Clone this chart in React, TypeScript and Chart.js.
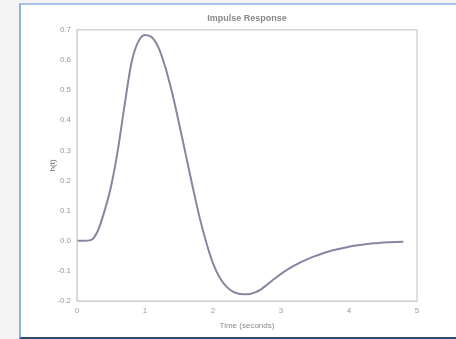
import React, { useEffect, useRef } from "react";
import { Chart, registerables } from "chart.js";

Chart.register(...registerables);

const chartTitle = "Impulse Response";
const xAxisTitle = "Time (seconds)";
const yAxisTitle = "h(t)";

const timeValues = [
  0, 0.1, 0.2, 0.3, 0.4, 0.5, 0.6, 0.7, 0.8, 0.9,
  1.0, 1.1, 1.2, 1.3, 1.4, 1.5, 1.6, 1.7, 1.8, 1.9,
  2.0, 2.1, 2.2, 2.3, 2.4, 2.5, 2.6, 2.7, 2.8, 2.9,
  3.0, 3.1, 3.2, 3.3, 3.4, 3.5, 3.6, 3.7, 3.8, 3.9,
  4.0, 4.1, 4.2, 4.3, 4.4, 4.5, 4.6, 4.7, 4.8,
];

const responseValues = [
  0, 0, 0.002, 0.03, 0.095, 0.18, 0.3, 0.45, 0.59, 0.66,
  0.683, 0.675, 0.64, 0.575, 0.49, 0.39, 0.285, 0.18, 0.08, -0.005,
  -0.075, -0.123, -0.153, -0.17, -0.177, -0.178, -0.173, -0.162, -0.145, -0.127,
  -0.11, -0.095, -0.082, -0.07, -0.06, -0.051, -0.043, -0.036, -0.03, -0.025,
  -0.02, -0.016, -0.013, -0.01, -0.008, -0.006, -0.005, -0.004, -0.003,
];

const xMin = 0;
const xMax = 5;
const yMin = -0.2;
const yMax = 0.7;

const boxPlugin = {
  id: "plotBox",
  afterDraw(chart: any) {
    const { ctx, chartArea } = chart;
    ctx.save();
    ctx.strokeStyle = "#d4d4d4";
    ctx.lineWidth = 1.5;
    ctx.strokeRect(chartArea.left, chartArea.top, chartArea.right - chartArea.left, chartArea.bottom - chartArea.top);
    ctx.restore();
  },
};

export default function App() {
  const ref = useRef<HTMLCanvasElement | null>(null);

  useEffect(() => {
    if (!ref.current) return;
    const points = timeValues.map((t, i) => ({ x: t, y: responseValues[i] }));
    const chart = new Chart(ref.current, {
      type: "line",
      data: {
        datasets: [
          {
            data: points,
            borderColor: "#8686a0",
            borderWidth: 2,
            pointRadius: 0,
            cubicInterpolationMode: "monotone",
            fill: false,
          },
        ],
      },
      options: {
        animation: false,
        responsive: false,
        maintainAspectRatio: false,
        layout: { padding: { left: 46, right: 39, top: 0, bottom: 6 } },
        plugins: {
          legend: { display: false },
          tooltip: { enabled: false },
          title: {
            display: true,
            fullSize: false,
            text: chartTitle,
            color: "#888",
            font: { size: 9, family: "Liberation Sans" },
            padding: { top: 13, bottom: 6 },
          },
        },
        scales: {
          x: {
            type: "linear",
            min: xMin,
            max: xMax,
            grid: { display: false, drawTicks: true, tickLength: 3 },
            border: { display: true, color: "#d4d4d4" },
            ticks: { stepSize: 1, color: "#999", font: { size: 8, family: "Liberation Sans" }, padding: 2, maxRotation: 0 },
            title: { display: true, text: xAxisTitle, color: "#888", font: { size: 8, family: "Liberation Sans" }, padding: 2 },
            afterFit(scale: any) {
              scale.height = 32;
            },
          },
          y: {
            min: yMin,
            max: yMax,
            grid: { display: false, tickLength: 3 },
            border: { display: true, color: "#d4d4d4" },
            ticks: {
              stepSize: 0.1,
              color: "#999",
              font: { size: 8, family: "Liberation Sans" },
              padding: 3,
              callback: (v: any) => {
                const n = Math.round(Number(v) * 10) / 10;
                return (n === 0 ? 0 : n).toFixed(1);
              },
            },
            title: { display: true, text: yAxisTitle, color: "#666", font: { size: 8, family: "Liberation Sans" }, padding: 2 },
            afterFit(scale: any) {
              scale.width = 31;
            },
          },
        },
      },
      plugins: [boxPlugin],
    });
    return () => chart.destroy();
  }, []);

  return (
    <div style={{ position: "fixed", left: 0, top: 0, width: 456, height: 339, background: "#f3f3f3", overflow: "hidden" }}>
      <div
        style={{
          position: "absolute",
          left: 19,
          top: 3,
          width: 437,
          height: 332,
          background: "#ffffff",
          borderLeft: "2px solid #8fb0dc",
          borderTop: "2px solid #a6c2e4",
          borderBottom: "2px solid #2c4c74",
        }}
      />
      <canvas ref={ref} width={456} height={339} style={{ position: "absolute", left: 0, top: 0, width: 456, height: 339 }} />
    </div>
  );
}
